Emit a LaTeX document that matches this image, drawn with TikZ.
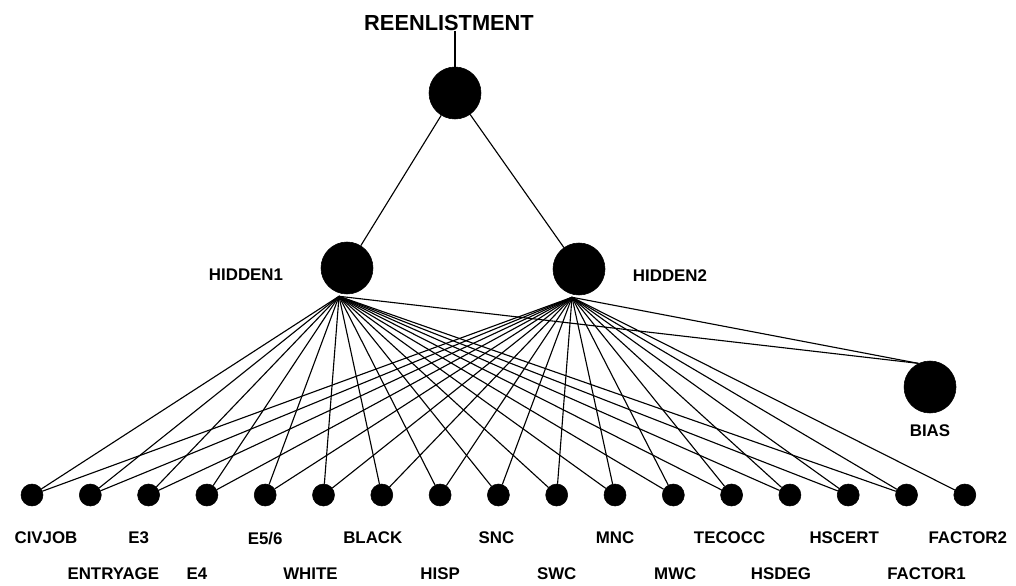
\documentclass[tikz,border=0pt]{standalone}
\usepackage{fontspec}
\setmainfont{Liberation Sans}
\usetikzlibrary{positioning}
\tikzset{
  neuron/.style={
    circle, draw, fill=black, minimum size=1.3cm, inner sep=0pt
  },
  unit/.style={
    circle, draw, fill=black, minimum size=0.55cm, inner sep=0pt
  },
  link/.style={line width=0.8pt, black},
  lbl/.style={font=\bfseries\fontsize{12}{14}\selectfont, inner sep=1pt},
  headlbl/.style={font=\bfseries\fontsize{15.5}{18}\selectfont, inner sep=1pt},
}

\begin{document}
\begin{tikzpicture}[x=0.025cm, y=-0.025cm]
  \useasboundingbox (0,0) rectangle (1016,585);

  % Output unit
  \node[headlbl] (reen) at (449,23) {REENLISTMENT};
  \node[neuron] (out) at (455,93) {};

  % Hidden layer
  \node[neuron] (h1) at (347,268) {};
  \node[neuron] (h2) at (579,269) {};
  \node[neuron] (bias) at (930,387) {};
  \node[lbl, left=0.9cm of h1, yshift=-5pt] (h1lbl) {HIDDEN1};
  \node[lbl, right=0.65cm of h2, yshift=-5pt] (h2lbl) {HIDDEN2};
  \node[lbl, below=0.25cm of bias] (biaslbl) {BIAS};

  % Fan points just below the hidden units
  \coordinate (h1tip) at ([shift={(-8,2)}]h1.south);
  \coordinate (h2tip) at ([shift={(-7,2)}]h2.south);

  % Input row
  \foreach \k in {1,...,17}
    \node[unit] (in\k) at ({32+58.3*(\k-1)},495) {};

  % Input labels, odd ones on the first line
  \foreach \k/\txt/\dx in {1/CIVJOB/0.35cm, 3/E3/-0.25cm, 5/E5\slash 6/0cm,
      7/BLACK/-0.225cm, 9/SNC/-0.05cm, 11/MNC/0cm, 13/TECOCC/-0.05cm,
      15/HSCERT/-0.1cm, 17/FACTOR2/0.075cm}
    \node[lbl, below=0.6cm of in\k, xshift=\dx] (lbl\k) {\txt};
  \foreach \k/\txt/\dx in {2/ENTRYAGE/0.575cm, 4/E4/-0.25cm, 6/WHITE/-0.325cm,
      8/HISP/0cm, 10/SWC/0cm, 12/MWC/0.05cm, 14/HSDEG/-0.225cm,
      16/FACTOR1/0.5cm}
    \node[lbl, below=1.5cm of in\k, xshift=\dx] (lbl\k) {\txt};

  % Connections
  \draw[link] (out.north) -- (out.north |- reen.base);
  \draw[link] (out) -- (h1);
  \draw[link] (out) -- (h2);
  \foreach \k in {1,...,16}
    \draw[link] (h1tip) -- (in\k);
  \foreach \k in {1,...,17}
    \draw[link] (h2tip) -- (in\k);
  \draw[link] (h1tip) -- (bias.116);
  \draw[link] (h2tip) -- (bias.116);
\end{tikzpicture}
\end{document}
